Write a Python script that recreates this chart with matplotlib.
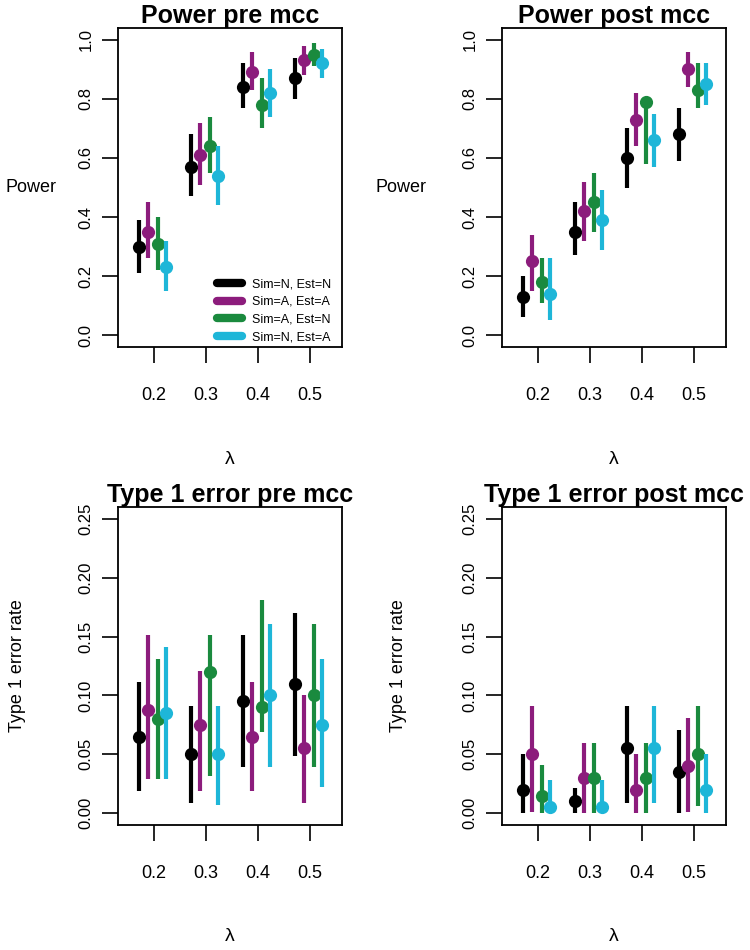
import numpy as np
import matplotlib.pyplot as plt

plt.rcParams['font.family'] = ['Liberation Sans', 'DejaVu Sans']

# lambda values and series
lam = np.array([0.2, 0.3, 0.4, 0.5])
labels = ['Sim=N, Est=N', 'Sim=A, Est=A', 'Sim=A, Est=N', 'Sim=N, Est=A']
colors = ['#000000', '#8c1c7c', '#1a8a3e', '#1eb6d8']
offsets = [-0.027, -0.011, 0.009, 0.024]

# Power pre mcc: estimate, lower, upper (per series, per lambda)
pow_pre = [[0.30, 0.57, 0.84, 0.87], [0.35, 0.61, 0.89, 0.93],
           [0.31, 0.64, 0.78, 0.95], [0.23, 0.54, 0.82, 0.92]]
pow_pre_lo = [[0.21, 0.47, 0.77, 0.80], [0.26, 0.51, 0.83, 0.88],
              [0.22, 0.55, 0.70, 0.91], [0.15, 0.44, 0.74, 0.87]]
pow_pre_hi = [[0.39, 0.68, 0.92, 0.94], [0.45, 0.72, 0.96, 0.98],
              [0.40, 0.74, 0.87, 0.99], [0.32, 0.64, 0.90, 0.97]]

# Power post mcc
pow_post = [[0.13, 0.35, 0.60, 0.68], [0.25, 0.42, 0.73, 0.90],
            [0.18, 0.45, 0.79, 0.83], [0.14, 0.39, 0.66, 0.85]]
pow_post_lo = [[0.06, 0.27, 0.50, 0.59], [0.15, 0.32, 0.64, 0.84],
               [0.11, 0.35, 0.58, 0.77], [0.05, 0.29, 0.57, 0.78]]
pow_post_hi = [[0.20, 0.45, 0.70, 0.77], [0.34, 0.52, 0.82, 0.96],
               [0.26, 0.55, 0.80, 0.92], [0.26, 0.49, 0.75, 0.92]]

# Type 1 error pre mcc
t1_pre = [[0.065, 0.050, 0.095, 0.110], [0.088, 0.075, 0.065, 0.055],
          [0.080, 0.120, 0.090, 0.100], [0.085, 0.050, 0.100, 0.075]]
t1_pre_lo = [[0.019, 0.009, 0.039, 0.049], [0.029, 0.019, 0.019, 0.009],
             [0.029, 0.032, 0.069, 0.039], [0.029, 0.007, 0.039, 0.022]]
t1_pre_hi = [[0.111, 0.091, 0.151, 0.170], [0.151, 0.121, 0.111, 0.100],
             [0.131, 0.151, 0.181, 0.161], [0.141, 0.091, 0.161, 0.131]]

# Type 1 error post mcc
t1_post = [[0.020, 0.010, 0.055, 0.035], [0.050, 0.030, 0.020, 0.040],
           [0.015, 0.030, 0.030, 0.050], [0.005, 0.005, 0.055, 0.020]]
t1_post_lo = [[0.0, 0.0, 0.009, 0.0], [0.001, 0.0, 0.0, 0.001],
              [0.0, 0.0, 0.0, 0.0065], [0.0, 0.0, 0.009, 0.0]]
t1_post_hi = [[0.0505, 0.021, 0.091, 0.071], [0.091, 0.060, 0.0505, 0.081],
              [0.041, 0.060, 0.060, 0.091], [0.028, 0.028, 0.091, 0.0505]]

W, H = 750, 950
fig = plt.figure(figsize=(7.5, 9.5), dpi=100)


def panel(rect, est, lo, hi, title, ylab, ylim, yticks, ytl, ylab_rot, ylab_x):
    ax = fig.add_axes([rect[0] / W, 1 - rect[3] / H, (rect[2] - rect[0]) / W, (rect[3] - rect[1]) / H])
    for i in range(4):
        x = lam + offsets[i]
        ax.vlines(x, lo[i], hi[i], color=colors[i], lw=3.0, zorder=2 + 2 * i)
        ax.plot(x, est[i], 'o', color=colors[i], ms=9.5, mec='none', zorder=3 + 2 * i)
    ax.set_xlim(0.1317, 0.5625)
    ax.set_ylim(*ylim)
    ax.set_xticks(lam)
    ax.set_xticklabels(['0.2', '0.3', '0.4', '0.5'], fontsize=13)
    ax.set_yticks(yticks)
    ax.set_yticklabels(ytl, fontsize=12, rotation=90, va='center')
    ax.tick_params(axis='x', length=11.5, width=1.2, pad=17)
    ax.tick_params(axis='y', length=11.5, width=1.2, pad=6)
    for s in ax.spines.values():
        s.set_linewidth(1.3)
    ax.set_title(title, fontsize=18, fontweight='bold', pad=1)
    ax.set_xlabel('λ', fontsize=14)
    ax.xaxis.set_label_coords(0.5, -0.325)
    ax.set_ylabel(ylab, fontsize=13, rotation=ylab_rot, va='center', ha='center')
    ax.yaxis.set_label_coords(ylab_x, 0.5)
    return ax


pw_ticks = [0.0, 0.2, 0.4, 0.6, 0.8, 1.0]
pw_tl = ['0.0', '0.2', '0.4', '0.6', '0.8', '1.0']
t1_ticks = [0.0, 0.05, 0.10, 0.15, 0.20, 0.25]
t1_tl = ['0.00', '0.05', '0.10', '0.15', '0.20', '0.25']

ax1 = panel((118, 28, 342, 347), pow_pre, pow_pre_lo, pow_pre_hi, 'Power pre mcc', 'Power',
            (-0.04, 1.04), pw_ticks, pw_tl, 0, -0.39)
panel((502, 28, 726, 347), pow_post, pow_post_lo, pow_post_hi, 'Power post mcc', 'Power',
      (-0.04, 1.04), pw_ticks, pw_tl, 0, -0.45)
panel((118, 507, 342, 825), t1_pre, t1_pre_lo, t1_pre_hi, 'Type 1 error pre mcc', 'Type 1 error rate',
      (-0.01, 0.26), t1_ticks, t1_tl, 90, -0.45)
panel((502, 507, 726, 825), t1_post, t1_post_lo, t1_post_hi, 'Type 1 error post mcc', 'Type 1 error rate',
      (-0.01, 0.26), t1_ticks, t1_tl, 90, -0.46)

handles = [plt.Line2D([], [], color=c, lw=6, solid_capstyle='round') for c in colors]
ax1.legend(handles, labels, loc='upper left', bbox_to_anchor=(0.415, 0.235), frameon=False,
           fontsize=9, handlelength=2.0, labelspacing=0.45, borderpad=0, handletextpad=0.8)

fig.savefig('out.png', dpi=100)
